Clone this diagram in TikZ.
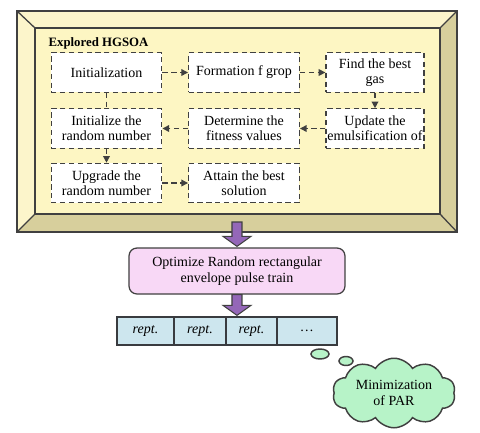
\documentclass[tikz,border=0pt]{standalone}
\usepackage{fontspec}
\setmainfont{Liberation Serif}
\usetikzlibrary{arrows.meta,shapes.symbols,shapes.geometric,calc}
\definecolor{bevellight}{HTML}{FCF5CB}
\definecolor{beveldark}{HTML}{D7CF9C}
\definecolor{innerfill}{HTML}{FDF6C3}
\definecolor{pinkfill}{HTML}{F8D8F6}
\definecolor{cellblue}{HTML}{CDE6EE}
\definecolor{cloudgreen}{HTML}{B7F3C8}
\definecolor{arrowpurple}{HTML}{9467B8}
\definecolor{linegray}{HTML}{404040}
\begin{document}
\begin{tikzpicture}[x=0.75pt, y=-0.75pt, line width=0.95pt,
  stepbox/.style={draw=linegray, dash pattern=on 4pt off 2.6pt, fill=white,
    minimum width=83pt, minimum height=29.5pt, inner sep=1pt, align=center,
    font=\fontsize{10.5}{11.3}\selectfont},
  flow/.style={draw=linegray, dash pattern=on 4pt off 2.6pt,
    -{Triangle[length=5pt,width=5pt]}},
  bigarrow/.style={draw=linegray, fill=arrowpurple, line width=0.8pt, line join=miter},
  cell/.style={draw=black!65!cyan!40!black, fill=cellblue, minimum height=21pt,
    inner sep=0pt, font=\fontsize{10.5}{12}\selectfont\itshape},
  bubble/.style={ellipse, draw=linegray, fill=cloudgreen, line width=1.1pt, inner sep=0pt}]
  \useasboundingbox (0,0) rectangle (480,433);
  % bevelled frame
  \coordinate (O1) at (17,11);  \coordinate (O2) at (457,11);
  \coordinate (O3) at (457,232); \coordinate (O4) at (17,232);
  \coordinate (I1) at (35,28);  \coordinate (I2) at (440,28);
  \coordinate (I3) at (440,214); \coordinate (I4) at (35,214);
  \fill[bevellight] (O1) -- (O2) -- (I2) -- (I1) -- cycle;
  \fill[bevellight] (O1) -- (I1) -- (I4) -- (O4) -- cycle;
  \fill[beveldark] (O2) -- (O3) -- (I3) -- (I2) -- cycle;
  \fill[beveldark] (O4) -- (O3) -- (I3) -- (I4) -- cycle;
  \fill[innerfill] (I1) rectangle (I3);
  \draw[linegray] (O1) rectangle (O3);
  \draw[linegray] (I1) rectangle (I3);
  \draw[linegray] (O1) -- (I1) (O2) -- (I2) (O3) -- (I3) (O4) -- (I4);
  \node[anchor=west, font=\fontsize{9.6}{11}\selectfont\bfseries, inner sep=0pt] (title) at (48,43) {Explored HGSOA};
  % steps
  \node[stepbox] (init) at (106.5,72.5) {Initialization};
  \node[stepbox] (group) at (244,72.5) {Formation f grop};
  \node[stepbox, minimum width=73.5pt] (best) at (375,72.5) {Find the best\\gas};
  \node[stepbox] (initrand) at (106.5,128.5) {Initialize the\\random number};
  \node[stepbox] (fitness) at (244,128.5) {Determine the\\fitness values};
  \node[stepbox, minimum width=73.5pt] (update) at (375,128.5) {Update the\\emulsification of};
  \node[stepbox] (uprand) at (106.5,183) {Upgrade the\\random number};
  \node[stepbox] (attain) at (244,183) {Attain the best\\solution};
  \draw[flow] (init) -- (group);
  \draw[flow] (group) -- (best);
  \draw[flow] (best) -- (update);
  \draw[flow] (update) -- (fitness);
  \draw[flow] (fitness) -- (initrand);
  \draw[draw=linegray, dash pattern=on 4pt off 2.6pt] (init) -- (initrand);
  \draw[flow] (initrand) -- (uprand);
  \draw[flow] (uprand) -- (attain);
  % pulse train
  \node[draw=linegray, fill=pinkfill, rounded corners=6pt, minimum width=162pt,
    minimum height=34.5pt, align=center, font=\fontsize{10.5}{12.5}\selectfont] (pulse) at (237,271)
    {Optimize Random rectangular\\envelope pulse train};
  \node[cell, minimum width=42.75pt] (c1) at (145.5,331) {rept.};
  \node[cell, minimum width=39pt] (c2) at (200,331) {rept.};
  \node[cell, minimum width=38.25pt] (c3) at (251.5,331) {rept.};
  \node[cell, minimum width=45pt] (c4) at (307,331) {\dots};
  \coordinate (a1) at (237,222);
  \draw[bigarrow] ($(a1)+(-5,0)$) -- ($(pulse.north)+(-5,-11)$) -- ($(pulse.north)+(-14,-11)$)
    -- ($(pulse.north)+(0,-1)$) -- ($(pulse.north)+(14,-11)$) -- ($(pulse.north)+(5,-11)$)
    -- ($(a1)+(5,0)$) -- cycle;
  \coordinate (a2) at (pulse.south |- c3.north);
  \draw[bigarrow] ($(pulse.south)+(-5,0)$) -- ($(a2)+(-5,-11)$) -- ($(a2)+(-14,-11)$)
    -- ($(a2)+(0,-1)$) -- ($(a2)+(14,-11)$) -- ($(a2)+(5,-11)$)
    -- ($(pulse.south)+(5,0)$) -- cycle;
  % thought
  \node[bubble, minimum width=13.5pt, minimum height=7.5pt] (t1) at (320,354) {};
  \node[bubble, minimum width=10.5pt, minimum height=6.75pt] (t2) at (346,361) {};
  \node[cloud, cloud puffs=10, cloud puff arc=115, aspect=2, draw=linegray, fill=cloudgreen,
    line width=1.1pt, minimum width=92pt, minimum height=46pt, inner sep=0pt, align=center,
    font=\fontsize{10.5}{12.5}\selectfont] (par) at (394,393)
    {Minimization\\of PAR};
\end{tikzpicture}
\end{document}
